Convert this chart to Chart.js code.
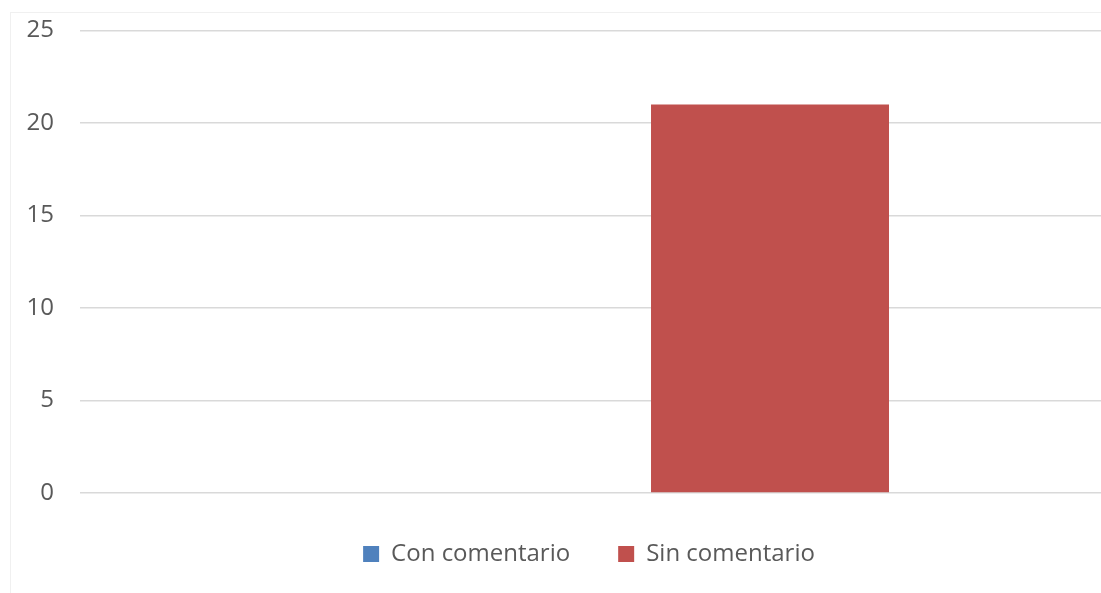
<!DOCTYPE html>
<html>
<head>
<meta charset="utf-8">
<script src="https://cdn.jsdelivr.net/npm/chart.js@4.4.1/dist/chart.umd.min.js"></script>
<style>
  html, body { margin: 0; padding: 0; background: #ffffff; overflow: hidden; }
  body { width: 1101px; height: 593px; position: relative; }
  #frame { position: absolute; left: 10px; top: 12px; width: 1200px; height: 600px;
           border-left: 1px solid #f0f0f0; border-top: 1px solid #f0f0f0; }
  #wrap { position: absolute; left: 10px; top: -10px; width: 1178px; height: 596px; }
</style>
</head>
<body>
<div id="frame"></div>
<div id="wrap"><canvas id="chart"></canvas></div>
<script>
// Categories and series
const categories = [""];
const seriesNames = ["Con comentario", "Sin comentario"];
const conComentario = [0];
const sinComentario = [21];
const yTicks = [0, 5, 10, 15, 20, 25];

const textColor = "#595959";
const fontFamily = "'Open Sans', 'Liberation Sans', sans-serif";

new Chart(document.getElementById("chart"), {
  type: "bar",
  data: {
    labels: categories,
    datasets: [
      { label: seriesNames[0], data: conComentario, backgroundColor: "#4F81BD",
        categoryPercentage: 0.5368, barPercentage: 0.815 },
      { label: seriesNames[1], data: sinComentario, backgroundColor: "#C0504D",
        categoryPercentage: 0.5368, barPercentage: 0.815 }
    ]
  },
  options: {
    responsive: true,
    maintainAspectRatio: false,
    animation: false,
    layout: { padding: { top: 0, right: 20, bottom: 10, left: 0 } },
    plugins: {
      tooltip: { enabled: false },
      legend: {
        position: "bottom",
        labels: {
          color: textColor,
          font: { family: fontFamily, size: 24 },
          boxWidth: 16,
          boxHeight: 16,
          padding: 48
        }
      }
    },
    scales: {
      x: {
        grid: { display: false },
        border: { display: false },
        ticks: { display: false },
        afterFit: (scale) => { scale.height = 1; }
      },
      y: {
        min: 0,
        max: 25,
        afterBuildTicks: (scale) => { scale.ticks = yTicks.map(v => ({ value: v })); },
        grid: { color: "#d9d9d9", lineWidth: 1.5, drawTicks: false },
        border: { display: false },
        ticks: { color: textColor, font: { family: fontFamily, size: 24 }, padding: 26 },
        afterFit: (scale) => { scale.width = 70; }
      }
    }
  }
});
</script>
</body>
</html>
